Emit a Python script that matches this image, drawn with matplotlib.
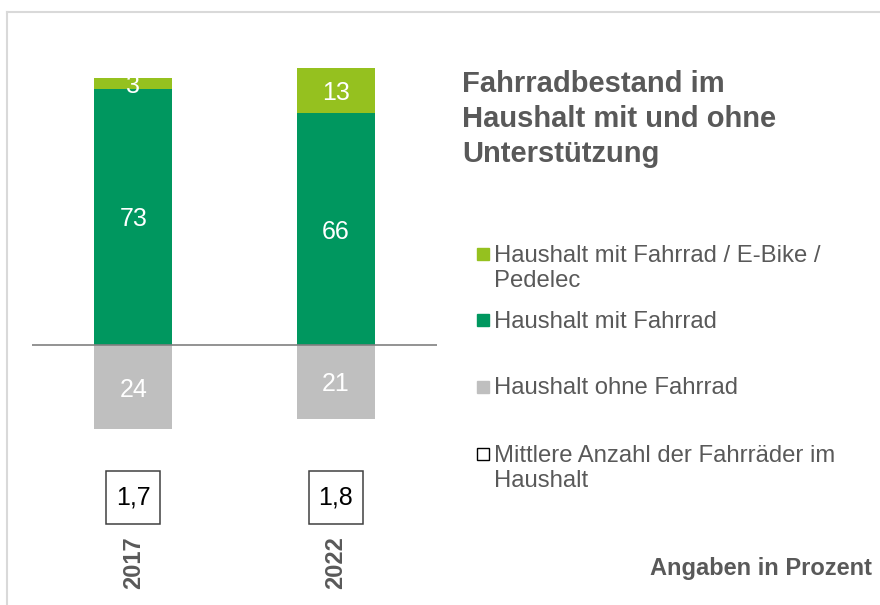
"""Fahrradbestand im Haushalt – stacked bars with negative 'ohne Fahrrad' part."""

import matplotlib
matplotlib.use('Agg')
import matplotlib.pyplot as plt
from matplotlib.lines import Line2D
from matplotlib.patches import Rectangle

plt.rcParams['font.family'] = ['Liberation Sans', 'DejaVu Sans']

# ---- data ----
years = ['2017', '2022']
mit_fahrrad = [73, 66]
mit_ebike = [3, 13]
ohne_fahrrad = [24, 21]
mittlere_anzahl = ['1,7', '1,8']

title = 'Fahrradbestand im\nHaushalt mit und ohne\nUnterstützung'
legend_labels = ['Haushalt mit Fahrrad / E-Bike /\nPedelec',
                 'Haushalt mit Fahrrad',
                 'Haushalt ohne Fahrrad',
                 'Mittlere Anzahl der Fahrräder im\nHaushalt']
note = 'Angaben in Prozent'

# ---- styles ----
C_LIGHT = '#95c11f'
C_DARK = '#00975f'
C_GREY = '#bfbfbf'
C_TEXT = '#595959'
W, H = 880, 605

fig = plt.figure(figsize=(W / 100, H / 100), dpi=100)


def fx(px):
    return px / W


def fy(py):
    return 1 - py / H


# axes spans x 32..437 px, y 12..605 px; baseline at 345 px, 3.51 px per percent
ax = fig.add_axes([fx(32), 0, fx(437) - fx(32), fy(12)])
ppu = 3.51
ax.set_xlim(-0.5, 1.5)
ax.set_ylim(-(H - 345) / ppu, (345 - 12) / ppu)
ax.axis('off')

x = list(range(len(years)))
bw = 0.385
ax.bar(x, mit_fahrrad, bw, color=C_DARK, zorder=2)
ax.bar(x, mit_ebike, bw, bottom=mit_fahrrad, color=C_LIGHT, zorder=2)
ax.bar(x, [-v for v in ohne_fahrrad], bw, color=C_GREY, zorder=2)
ax.axhline(0, color='#808080', lw=1.2, zorder=3)

lab = dict(ha='center', va='center_baseline', fontsize=18, color='white', zorder=4)
for i in x:
    ax.text(i, mit_fahrrad[i] / 2, str(mit_fahrrad[i]), **lab)
    ax.text(i, mit_fahrrad[i] + mit_ebike[i] / 2, str(mit_ebike[i]), **lab)
    ax.text(i, -ohne_fahrrad[i] / 2, str(ohne_fahrrad[i]), **lab)

    # box with mean number of bikes
    box_y = -(497 - 345) / ppu
    bwid, bhei = 54 / 202.5, 53 / ppu
    ax.add_patch(Rectangle((i - bwid / 2, box_y - bhei / 2), bwid, bhei,
                           facecolor='white', edgecolor='#404040', lw=1.1))
    ax.text(i, box_y, mittlere_anzahl[i], ha='center', va='center',
            fontsize=18, color='black')
    ax.text(i, -(563 - 345) / ppu, years[i], ha='center', va='center',
            rotation=90, fontsize=17, fontweight='bold', color=C_TEXT)

# ---- title / legend / note ----
fig.text(fx(462), fy(70), title, ha='left', va='top', fontsize=21,
         fontweight='bold', color=C_TEXT, linespacing=1.31)

leg_y = [254, 320, 387, 454]
leg_fc = [C_LIGHT, C_DARK, C_GREY, 'white']
leg_ec = [C_LIGHT, C_DARK, C_GREY, 'black']
for yy, lbl, fc, ec in zip(leg_y, legend_labels, leg_fc, leg_ec):
    fig.add_artist(Rectangle((fx(477), fy(yy + 6)), fx(12), 12 / H,
                             facecolor=fc, edgecolor=ec, lw=1.0,
                             transform=fig.transFigure))
    fig.text(fx(494), fy(yy - 9.5), lbl, ha='left', va='top', fontsize=17.2,
             color=C_TEXT, linespacing=1.22)

fig.text(fx(872), fy(569), note, ha='right', va='center', fontsize=17,
         fontweight='bold', color=C_TEXT)

# light frame (top and left edge)
fig.add_artist(Line2D([fx(7), 1], [fy(12), fy(12)], color='#d9d9d9', lw=1.5,
                      transform=fig.transFigure))
fig.add_artist(Line2D([fx(7), fx(7)], [fy(12), 0], color='#d9d9d9', lw=1.5,
                      transform=fig.transFigure))

fig.savefig('out.png', dpi=100)
